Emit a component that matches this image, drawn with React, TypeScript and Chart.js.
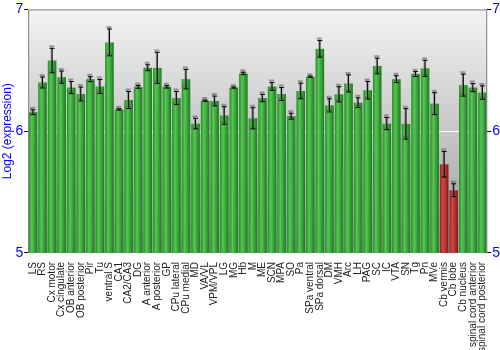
import React, { useEffect, useRef } from "react";
import { Chart, registerables } from "chart.js";
Chart.register(...registerables);

const categories = ["LS","RS","Cx motor","Cx cingulate","OB anterior","OB posterior","Pir","Tu","ventral S","CA1","CA2/CA3","DG","A anterior","A posterior","GP","CPu lateral","CPu medial","MD","VA/VL","VPM/VPL","LG","MG","Hb","M","ME","SCN","MPA","SO","Pa","SPa ventral","SPa dorsal","DM","VMH","Arc","LH","PAG","SC","IC","VTA","SN","Tg","Pn","MVe","Cb vermis","Cb lobe","Cb nucleus","spinal cord anterior","spinal cord posterior"];
const values = [6.156,6.40,6.58,6.444,6.358,6.305,6.427,6.367,6.729,6.178,6.256,6.364,6.521,6.52,6.364,6.272,6.427,6.062,6.25,6.248,6.129,6.358,6.474,6.106,6.272,6.367,6.305,6.123,6.33,6.447,6.676,6.212,6.303,6.392,6.234,6.336,6.535,6.062,6.427,6.06,6.469,6.516,6.226,5.728,5.515,6.378,6.358,6.317];
const errors = [0.02,0.045,0.1,0.05,0.05,0.057,0.02,0.057,0.11,0.005,0.07,0.012,0.024,0.127,0.01,0.054,0.08,0.043,0.005,0.04,0.072,0.005,0.01,0.087,0.03,0.032,0.053,0.024,0.064,0.005,0.068,0.054,0.062,0.07,0.04,0.072,0.064,0.05,0.028,0.125,0.02,0.066,0.09,0.105,0.053,0.09,0.033,0.055];
const highlighted = ["Cb vermis","Cb lobe"];
const yTicks = [5, 6, 7];

export default function App() {
  const ref = useRef<HTMLCanvasElement>(null);
  useEffect(() => {
    document.body.style.margin = "0";
    const canvas = ref.current!;
    const bgPlugin = {
      id: "bg",
      beforeDraw(chart: any) {
        const { ctx, chartArea: a } = chart;
        const g = ctx.createLinearGradient(0, a.top, 0, a.bottom);
        g.addColorStop(0, "#f4f4f4");
        g.addColorStop(1, "#999999");
        ctx.save();
        ctx.fillStyle = g;
        ctx.fillRect(a.left, a.top, a.right - a.left, a.bottom - a.top);
        ctx.restore();
      },
      afterDatasetsDraw(chart: any) {
        const { ctx } = chart;
        const y = chart.scales.y;
        const meta = chart.getDatasetMeta(0);
        ctx.save();
        meta.data.forEach((bar: any, i: number) => {
          const red = highlighted.includes(categories[i]);
          const x0 = bar.x - bar.width / 2, x1 = bar.x + bar.width / 2;
          const g = ctx.createLinearGradient(x0, 0, x1, 0);
          if (red) {
            g.addColorStop(0, "#9a2020");
            g.addColorStop(0.35, "#d04848");
            g.addColorStop(1, "#8a1818");
          } else {
            g.addColorStop(0, "#2a8a2a");
            g.addColorStop(0.35, "#55c855");
            g.addColorStop(1, "#1c7a1c");
          }
          ctx.fillStyle = g;
          ctx.fillRect(x0, bar.y, x1 - x0, bar.base - bar.y);
        });
        meta.data.forEach((bar: any, i: number) => {
          const top = y.getPixelForValue(values[i] + errors[i]);
          const bot = y.getPixelForValue(values[i] - errors[i]);
          const draw = (dx: number, dy: number, col: string, w: number) => {
            ctx.strokeStyle = col;
            ctx.lineWidth = w;
            ctx.beginPath();
            ctx.moveTo(bar.x + dx, top + dy);
            ctx.lineTo(bar.x + dx, bot + dy);
            ctx.moveTo(bar.x + dx - 2.5, top + dy);
            ctx.lineTo(bar.x + dx + 2.5, top + dy);
            ctx.moveTo(bar.x + dx - 2.5, bot + dy);
            ctx.lineTo(bar.x + dx + 2.5, bot + dy);
            ctx.stroke();
          };
          draw(-0.5, -2, "rgba(90,90,90,0.55)", 2);
          draw(0, 0, "#000000", 1);
        });
        const a = chart.chartArea;
        ctx.strokeStyle = "#808080";
        ctx.lineWidth = 1;
        ctx.beginPath();
        ctx.moveTo(a.left + 0.5, a.bottom);
        ctx.lineTo(a.left + 0.5, a.top + 0.5);
        ctx.lineTo(a.right - 0.5, a.top + 0.5);
        ctx.lineTo(a.right - 0.5, a.bottom);
        ctx.stroke();
        ctx.restore();
      },
    };
    const tickFont = { family: "Liberation Sans, Arial, sans-serif", size: 14 };
    const chart = new Chart(canvas, {
      type: "bar",
      data: {
        labels: categories,
        datasets: [{
          data: values.map((v) => [5, v]),
          backgroundColor: "rgba(0,0,0,0)",
          barPercentage: 0.9,
          categoryPercentage: 1,
          borderWidth: 0,
        }],
      },
      options: {
        responsive: false,
        animation: false,
        layout: { padding: { left: 0, right: -1, top: 4, bottom: -3 } },
        plugins: { legend: { display: false }, tooltip: { enabled: false } },
        scales: {
          x: {
            grid: { display: false },
            border: { display: false },
            ticks: {
              autoSkip: false, maxRotation: 90, minRotation: 90, padding: 1,
              color: "#222", font: { family: "Liberation Sans, Arial, sans-serif", size: 10 },
            },
          },
          y: {
            min: 5, max: 7,
            afterBuildTicks: (s: any) => { s.ticks = yTicks.map((v) => ({ value: v })); },
            ticks: { color: "#0000ff", font: tickFont, padding: 1 },
            border: { display: false },
            grid: {
              color: (c: any) => (c.tick && c.tick.value === 6 ? "#ffffff" : "rgba(0,0,0,0)"),
              tickColor: "#000", tickLength: 4, drawTicks: true,
            },
            title: { display: true, text: "Log2 (expression)", color: "#0000ff", font: { family: "Liberation Sans, Arial, sans-serif", size: 12 }, padding: 0 },
          },
          y2: {
            position: "right", min: 5, max: 7,
            afterBuildTicks: (s: any) => { s.ticks = yTicks.map((v) => ({ value: v })); },
            ticks: { color: "#0000ff", font: tickFont, padding: 1 },
            border: { display: false },
            grid: { drawOnChartArea: false, tickColor: "#000", tickLength: 4 },
          },
        },
      },
      plugins: [bgPlugin],
    } as any);
    return () => chart.destroy();
  }, []);
  return (
    <div style={{ width: 500, height: 350 }}>
      <canvas ref={ref} width={500} height={350} />
    </div>
  );
}
